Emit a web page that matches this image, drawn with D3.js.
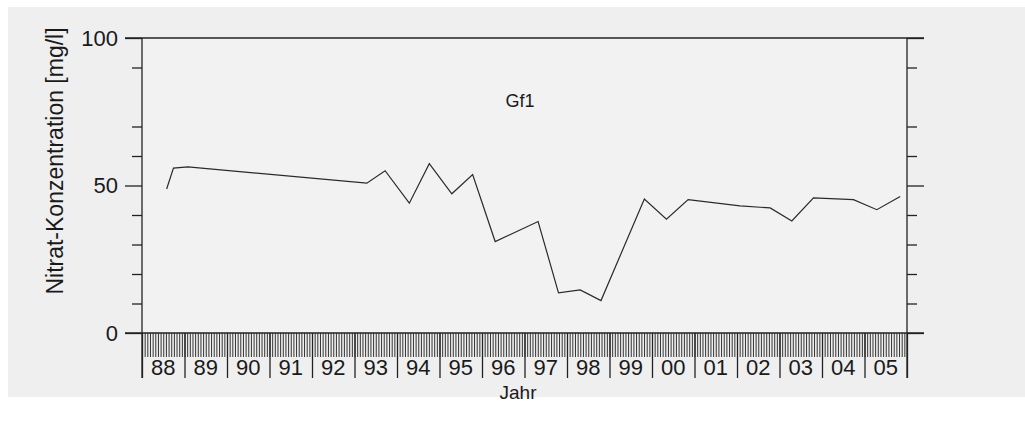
<!DOCTYPE html>
<html>
<head>
<meta charset="utf-8">
<script src="https://cdn.jsdelivr.net/npm/d3@7"></script>
<style>
  body { margin: 0; background: #fff; }
  svg { display: block; font-family: "Liberation Sans", Arial, sans-serif; }
</style>
</head>
<body>
<svg id="chart" width="1025" height="421"></svg>
<script>
// sample dates (decimal years) and nitrate values in mg/l
const sampleYears = [1988.58, 1988.74, 1989.08, 1993.29, 1993.72, 1994.29, 1994.76, 1995.29,
                     1995.78, 1996.31, 1997.32, 1997.80, 1998.31, 1998.80, 1999.82, 2000.34,
                     2000.85, 2002.07, 2002.78, 2003.29, 2003.80, 2004.74, 2005.29, 2005.84];
const nitrate = [48.8, 55.9, 56.3, 50.8, 55.0, 44.0, 57.4, 47.2,
                 53.7, 31.0, 37.8, 13.6, 14.6, 11.0, 45.4, 38.6,
                 45.2, 43.1, 42.4, 38.0, 45.8, 45.2, 41.8, 46.3];
const yearLabels = ["88","89","90","91","92","93","94","95","96","97","98","99","00","01","02","03","04","05"];
const majorY = [0, 50, 100];
const minorY = [10, 20, 30, 40, 60, 70, 90];
const stationName = "Gf1";

const svg = d3.select('#chart');

svg.append('rect')
    .attr('x', 8).attr('y', 7)
    .attr('width', 1017).attr('height', 390)
    .attr('fill', '#efefef');

const x = d3.scaleLinear().domain([1988, 2006]).range([142, 907]);
const y = d3.scaleLinear().domain([0, 100]).range([333, 38]);

svg.append('rect')
    .attr('x', x(1988)).attr('y', y(100))
    .attr('width', x(2006) - x(1988)).attr('height', y(0) - y(100))
    .attr('fill', '#f2f2f2');

// dense sub-year ticks under the zero line
const sub = d3.range(1988, 2006, 1 / 16);
svg.append('g')
    .attr('transform', 'translate(0,' + y(0) + ')')
    .call(d3.axisBottom(x).tickValues(sub).tickSize(24).tickFormat(''))
    .call(g => g.select('.domain').remove())
    .call(g => g.selectAll('line').attr('stroke', '#333').attr('stroke-width', 1));

// year separators
const years = d3.range(1988, 2007);
svg.append('g')
    .attr('transform', 'translate(0,' + y(0) + ')')
    .call(d3.axisBottom(x).tickValues(years).tickSize(45).tickFormat(''))
    .call(g => g.select('.domain').remove())
    .call(g => g.selectAll('line').attr('stroke', '#222').attr('stroke-width', 1.3));

svg.append('g')
    .selectAll('text')
    .data(yearLabels)
    .enter()
    .append('text')
    .attr('x', (d, i) => x(1988 + i + 0.5))
    .attr('y', 375)
    .attr('text-anchor', 'middle')
    .attr('font-size', 22)
    .attr('fill', '#1a1a1a')
    .text(d => d);

// left axis
svg.append('g')
    .attr('transform', 'translate(' + x(1988) + ',0)')
    .call(d3.axisLeft(y).tickValues(majorY).tickSize(17).tickPadding(7))
    .call(g => g.select('.domain').remove())
    .call(g => g.selectAll('line').attr('stroke', '#222').attr('stroke-width', 1.3))
    .call(g => g.selectAll('text').attr('font-size', 22).attr('fill', '#1a1a1a')
        .attr('font-family', '"Liberation Sans", Arial, sans-serif'));
svg.append('g')
    .attr('transform', 'translate(' + x(1988) + ',0)')
    .call(d3.axisLeft(y).tickValues(minorY).tickSize(10).tickFormat(''))
    .call(g => g.select('.domain').remove())
    .call(g => g.selectAll('line').attr('stroke', '#222').attr('stroke-width', 1.3));

// right axis
svg.append('g')
    .attr('transform', 'translate(' + x(2006) + ',0)')
    .call(d3.axisRight(y).tickValues(majorY).tickSize(17).tickFormat(''))
    .call(g => g.select('.domain').remove())
    .call(g => g.selectAll('line').attr('stroke', '#222').attr('stroke-width', 1.3));
svg.append('g')
    .attr('transform', 'translate(' + x(2006) + ',0)')
    .call(d3.axisRight(y).tickValues(minorY).tickSize(10).tickFormat(''))
    .call(g => g.select('.domain').remove())
    .call(g => g.selectAll('line').attr('stroke', '#222').attr('stroke-width', 1.3));

// frame
const frame = svg.append('g').attr('stroke', '#222').attr('stroke-width', 1.3);
frame.append('line').attr('x1', x(1988) - 17).attr('x2', x(2006) + 17)
    .attr('y1', y(100)).attr('y2', y(100));
frame.append('line').attr('x1', x(1988) - 17).attr('x2', x(2006) + 17)
    .attr('y1', y(0)).attr('y2', y(0));
frame.append('line').attr('x1', x(1988)).attr('x2', x(1988))
    .attr('y1', y(100)).attr('y2', y(0) + 45);
frame.append('line').attr('x1', x(2006)).attr('x2', x(2006))
    .attr('y1', y(100)).attr('y2', y(0) + 45);

// data line
const line = d3.line()
    .x((d, i) => x(sampleYears[i]))
    .y(d => y(d));

svg.append('path')
    .datum(nitrate)
    .attr('fill', 'none')
    .attr('stroke', '#2a2a2a')
    .attr('stroke-width', 1.2)
    .attr('d', line);

// labels
svg.append('text')
    .attr('x', 520).attr('y', 107)
    .attr('text-anchor', 'middle')
    .attr('font-size', 18)
    .attr('fill', '#1a1a1a')
    .text(stationName);

svg.append('text')
    .attr('x', 518).attr('y', 399)
    .attr('text-anchor', 'middle')
    .attr('font-size', 19)
    .attr('fill', '#1a1a1a')
    .text('Jahr');

svg.append('text')
    .attr('transform', 'translate(63,161) rotate(-90)')
    .attr('text-anchor', 'middle')
    .attr('font-size', 23)
    .attr('fill', '#1a1a1a')
    .text('Nitrat-Konzentration [mg/l]');
</script>
</body>
</html>
